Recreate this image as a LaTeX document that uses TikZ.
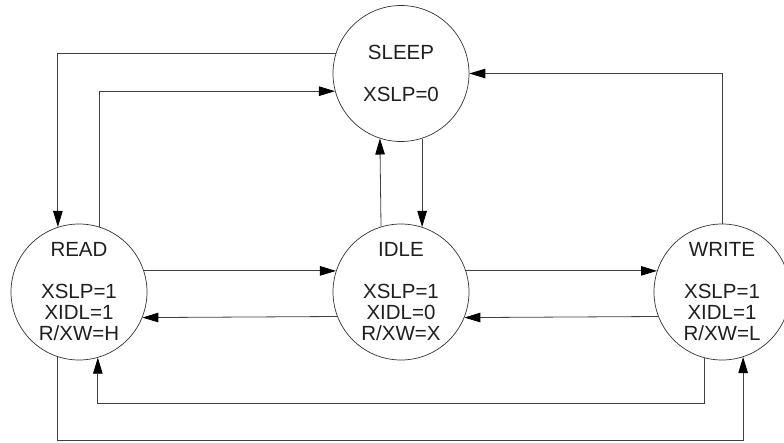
\documentclass[tikz,border=0pt]{standalone}
\usepackage{fontspec}
\setmainfont{Liberation Sans}
\usetikzlibrary{arrows.meta}
\begin{document}
\begin{tikzpicture}[x=1pt,y=-1pt,
  state/.style={circle,draw=black!80,line width=0.7pt,minimum size=136pt,inner sep=0pt,
    align=center,text=black!88,font=\fontsize{20.5}{21}\selectfont},
  conn/.style={draw=black!75,line width=0.8pt,-{Triangle[length=16pt,width=9.5pt,color=black]}}]
\useasboundingbox (0,0) rectangle (784,442);
\node[state] (sleep) at (401,73.5) {SLEEP\\[21pt]XSLP=0};
\node[state] (read)  at (79,292)  {READ\\[21pt]XSLP=1\\XIDL=1\\R/XW=H};
\node[state] (idle)  at (401,292) {IDLE\\[21pt]XSLP=1\\XIDL=0\\R/XW=X};
\node[state] (write) at (722,292) {WRITE\\[21pt]XSLP=1\\XIDL=1\\R/XW=L};
\coordinate (wr) at (0,403);
\coordinate (rw) at (0,440.5);
% sleep <-> read
\draw[conn] (sleep.163.3) -| (read.108);
\draw[conn] (read.73.8) |- (sleep.195.8);
% sleep <-> idle
\draw[conn] (idle.107.1) -- (sleep.252.9);
\draw[conn] (sleep.288) -- (idle.72);
% write -> sleep
\draw[conn] (write.north) |- (sleep.east);
% read <-> idle
\draw[conn] (read.18) -- (idle.162);
\draw[conn] (idle.201.1) -- (read.338.9);
% idle <-> write
\draw[conn] (idle.18) -- (write.162);
\draw[conn] (write.201.1) -- (idle.338.9);
% write -> read
\draw[conn] (write.255.5) -- (write.255.5 |- wr) -| (read.286.2);
% read -> write
\draw[conn] (read.252) -- (read.252 |- rw) -| (write.288.9);
\end{tikzpicture}
\end{document}
